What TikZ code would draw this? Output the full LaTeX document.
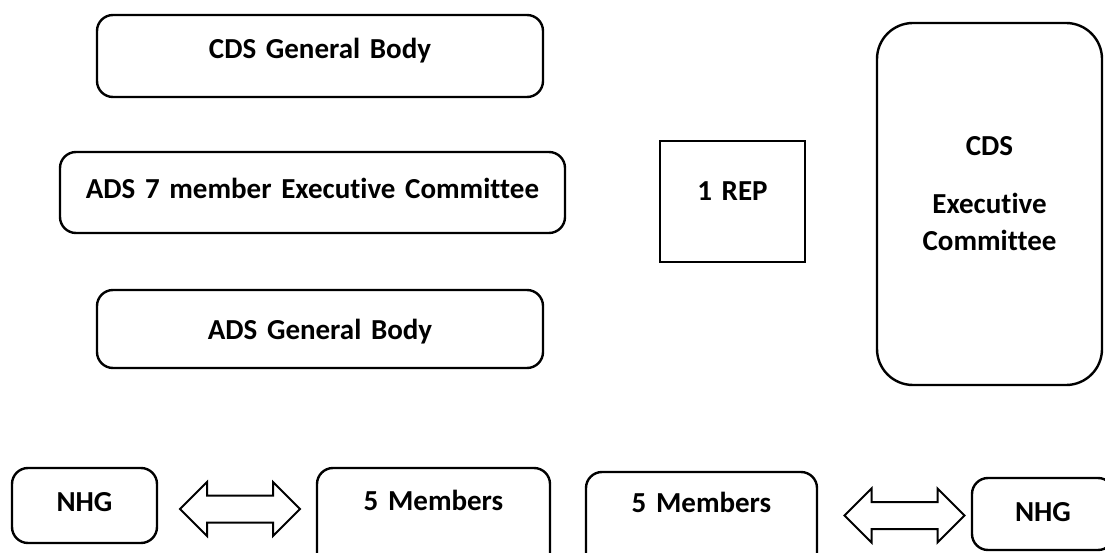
\documentclass[tikz,border=0pt]{standalone}
\usepackage{fontspec}
\setmainfont{Carlito}[Ligatures={NoCommon}]
\usetikzlibrary{shapes.arrows}

\begin{document}
\begin{tikzpicture}[x=1pt, y=-1pt,
  box/.style={draw, line width=2.4pt, rounded corners=16pt, inner sep=0pt, align=center,
    font=\bfseries\fontsize{29}{37}\selectfont},
  twoway/.style={double arrow, draw, line width=2pt, inner sep=0pt, inner ysep=12.5pt,
    minimum height=120pt, minimum width=52pt, double arrow head extend=13.5pt}]
  \useasboundingbox (0,0) rectangle (1105,553);
  \clip (0,0) rectangle (1105,553);

  % left column
  \node[box, text width=446pt, text height=44pt, text depth=38pt] (cdsGB) at (320,56) {CDS General Body};
  \node[box, text width=505pt, text height=47pt, text depth=34pt] (adsEC) at (312.5,192.5) {ADS 7 member Executive Committee};
  \node[box, text width=446pt, text height=49pt, text depth=29pt] (adsGB) at (320,329) {ADS General Body};

  % representative and CDS committee
  \node[box, sharp corners, text width=145pt, text height=60pt, text depth=61pt] (rep) at (732.5,201.5) {1 REP};
  \node[box, rounded corners=36pt, text width=225pt, text height=133pt, text depth=229pt] (cdsEC) at (989.5,204)
    {CDS\\[21pt] Executive\\Committee};

  % bottom row
  \node[box, text width=145pt, text height=43pt, text depth=32pt] (nhgL) at (84.5,505.5) {NHG};
  \node[box, text width=233pt, text height=42pt, text depth=110pt] (memL) at (433.5,544) {5 Members};
  \node[box, text width=231pt, text height=40pt, text depth=108pt] (memR) at (701.5,546) {5 Members};
  \node[box, text width=142pt, text height=43pt, text depth=29pt] (nhgR) at (1043,514) {NHG};

  % two-way arrows
  \node[twoway] (arrL) at (240,509) {};
  \node[twoway] (arrR) at (904.5,515.5) {};
\end{tikzpicture}
\end{document}
